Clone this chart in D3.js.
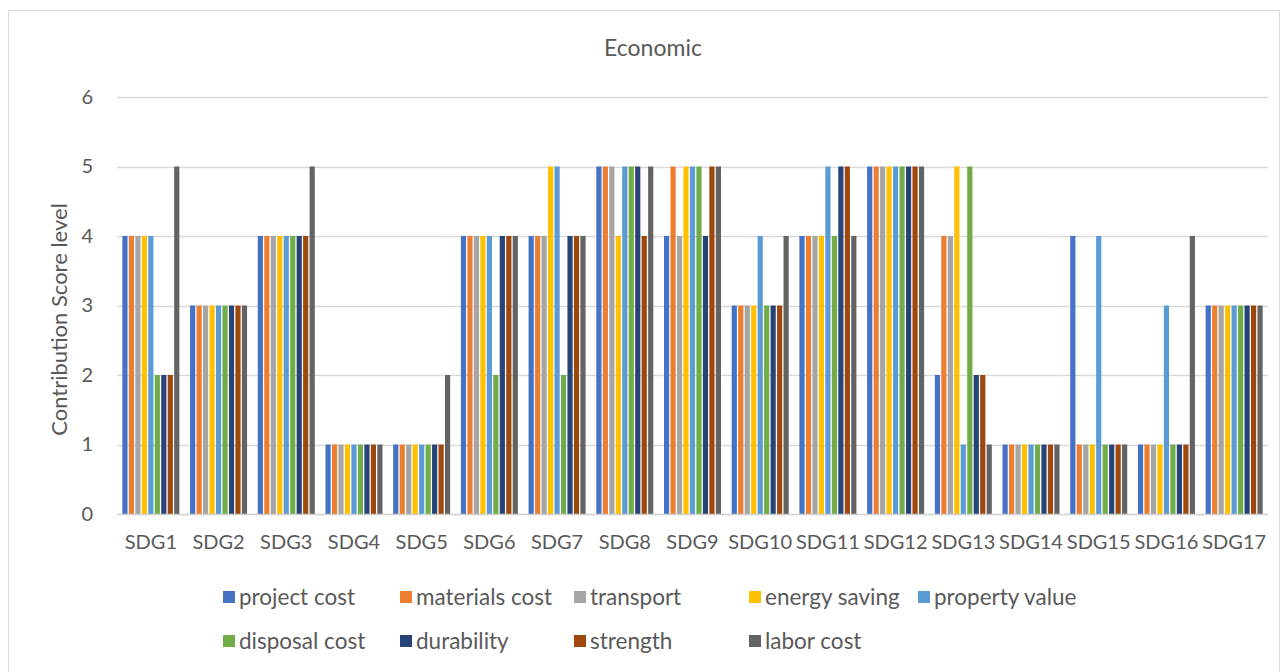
<!DOCTYPE html>
<html>
<head>
<meta charset="utf-8">
<script src="https://cdn.jsdelivr.net/npm/d3@7"></script>
<style>
  html, body { margin: 0; padding: 0; background: #fff; }
  svg text { font-family: Lato, "Open Sans", sans-serif; fill: #595959; }
</style>
</head>
<body>
<svg id="chart" width="1288" height="672"></svg>
<script>
// Categories and series
const categories = ["SDG1","SDG2","SDG3","SDG4","SDG5","SDG6","SDG7","SDG8","SDG9",
  "SDG10","SDG11","SDG12","SDG13","SDG14","SDG15","SDG16","SDG17"];
const seriesNames = ["project cost","materials cost","transport","energy saving",
  "property value","disposal cost","durability","strength","labor cost"];
const seriesColors = ["#4472C4","#ED7D31","#A5A5A5","#FFC000","#5B9BD5",
  "#70AD47","#264478","#9E480E","#636363"];
const yTicks = [0,1,2,3,4,5,6];

// One score per SDG, in category order
const projectCost    = [4,3,4,1,1,4,4,5,4,3,4,5,2,1,4,1,3];
const materialsCost  = [4,3,4,1,1,4,4,5,5,3,4,5,4,1,1,1,3];
const transport      = [4,3,4,1,1,4,4,5,4,3,4,5,4,1,1,1,3];
const energySaving   = [4,3,4,1,1,4,5,4,5,3,4,5,5,1,1,1,3];
const propertyValue  = [4,3,4,1,1,4,5,5,5,4,5,5,1,1,4,3,3];
const disposalCost   = [2,3,4,1,1,2,2,5,5,3,4,5,5,1,1,1,3];
const durability     = [2,3,4,1,1,4,4,5,4,3,5,5,2,1,1,1,3];
const strength       = [2,3,4,1,1,4,4,4,5,3,5,5,2,1,1,1,3];
const laborCost      = [5,3,5,1,2,4,4,5,5,4,4,5,1,1,1,4,3];

const seriesValues = [projectCost, materialsCost, transport, energySaving,
  propertyValue, disposalCost, durability, strength, laborCost];

const svg = d3.select("#chart");

// Chart frame
svg.append("rect")
  .attr("x", 8.5).attr("y", 10.5)
  .attr("width", 1271).attr("height", 680)
  .attr("fill", "#fff").attr("stroke", "#d9d9d9").attr("stroke-width", 1);

const plot = { left: 117, right: 1268, top: 97, bottom: 514 };

const x = d3.scaleBand()
  .domain(categories)
  .range([plot.left, plot.right])
  .paddingInner(0.158)
  .paddingOuter(0.079);

const xs = d3.scaleBand()
  .domain(d3.range(seriesNames.length))
  .range([0, x.bandwidth()])
  .paddingInner(0.2);

const y = d3.scaleLinear().domain([0, 6]).range([plot.bottom, plot.top]);

// Gridlines
svg.append("g")
  .selectAll("line")
  .data(yTicks.filter(t => t > 0))
  .join("line")
  .attr("x1", plot.left).attr("x2", plot.right)
  .attr("y1", d => Math.round(y(d)) + 0.5)
  .attr("y2", d => Math.round(y(d)) + 0.5)
  .attr("stroke", "#d9d9d9").attr("stroke-width", 1.3);

// Bars
const groups = svg.append("g")
  .selectAll("g")
  .data(seriesValues)
  .join("g")
  .attr("fill", (d, i) => seriesColors[i]);

groups.selectAll("rect")
  .data((vals, si) => vals.map((v, ci) => ({ v, ci, si })))
  .join("rect")
  .attr("x", d => x(categories[d.ci]) + xs(d.si))
  .attr("width", xs.bandwidth())
  .attr("y", d => y(d.v))
  .attr("height", d => y(0) - y(d.v));

// Baseline
svg.append("line")
  .attr("x1", plot.left).attr("x2", plot.right)
  .attr("y1", Math.round(y(0)) + 0.5).attr("y2", Math.round(y(0)) + 0.5)
  .attr("stroke", "#d0d0d0").attr("stroke-width", 1.3);

// Y axis labels
const yAxis = d3.axisLeft(y).tickValues(yTicks).tickFormat(d3.format("d"))
  .tickSize(0).tickPadding(24);
const yg = svg.append("g").attr("transform", `translate(${plot.left},0)`).call(yAxis);
yg.select(".domain").remove();
yg.selectAll("text").style("font-size", "20px").style("font-family", "Lato, sans-serif").attr("fill", "#595959");

// X axis labels
const xAxis = d3.axisBottom(x).tickSize(0).tickPadding(21);
const xg = svg.append("g").attr("transform", `translate(0,${plot.bottom})`).call(xAxis);
xg.select(".domain").remove();
xg.selectAll("text").style("font-size", "20px").style("font-family", "Lato, sans-serif").attr("fill", "#595959");

// Title
svg.append("text")
  .attr("x", 653).attr("y", 56)
  .attr("text-anchor", "middle")
  .style("font-size", "23px")
  .text("Economic");

// Y axis title
svg.append("text")
  .attr("transform", `translate(67,${(plot.top + plot.bottom) / 2 + 14}) rotate(-90)`)
  .attr("text-anchor", "middle")
  .style("font-size", "22px")
  .text("Contribution Score level");

// Legend
const legendCols = [223, 400, 574, 749, 918];
const legend = svg.append("g");
seriesNames.forEach((name, i) => {
  const row = i < 5 ? 0 : 1;
  const col = i < 5 ? i : i - 5;
  const ly = row === 0 ? 598 : 642;
  const lx = legendCols[col];
  legend.append("rect")
    .attr("x", lx).attr("y", ly - 7)
    .attr("width", 12).attr("height", 12)
    .attr("fill", seriesColors[i]);
  legend.append("text")
    .attr("x", lx + 16).attr("y", ly + 7)
    .style("font-size", "22.5px")
    .text(name);
});
</script>
</body>
</html>
